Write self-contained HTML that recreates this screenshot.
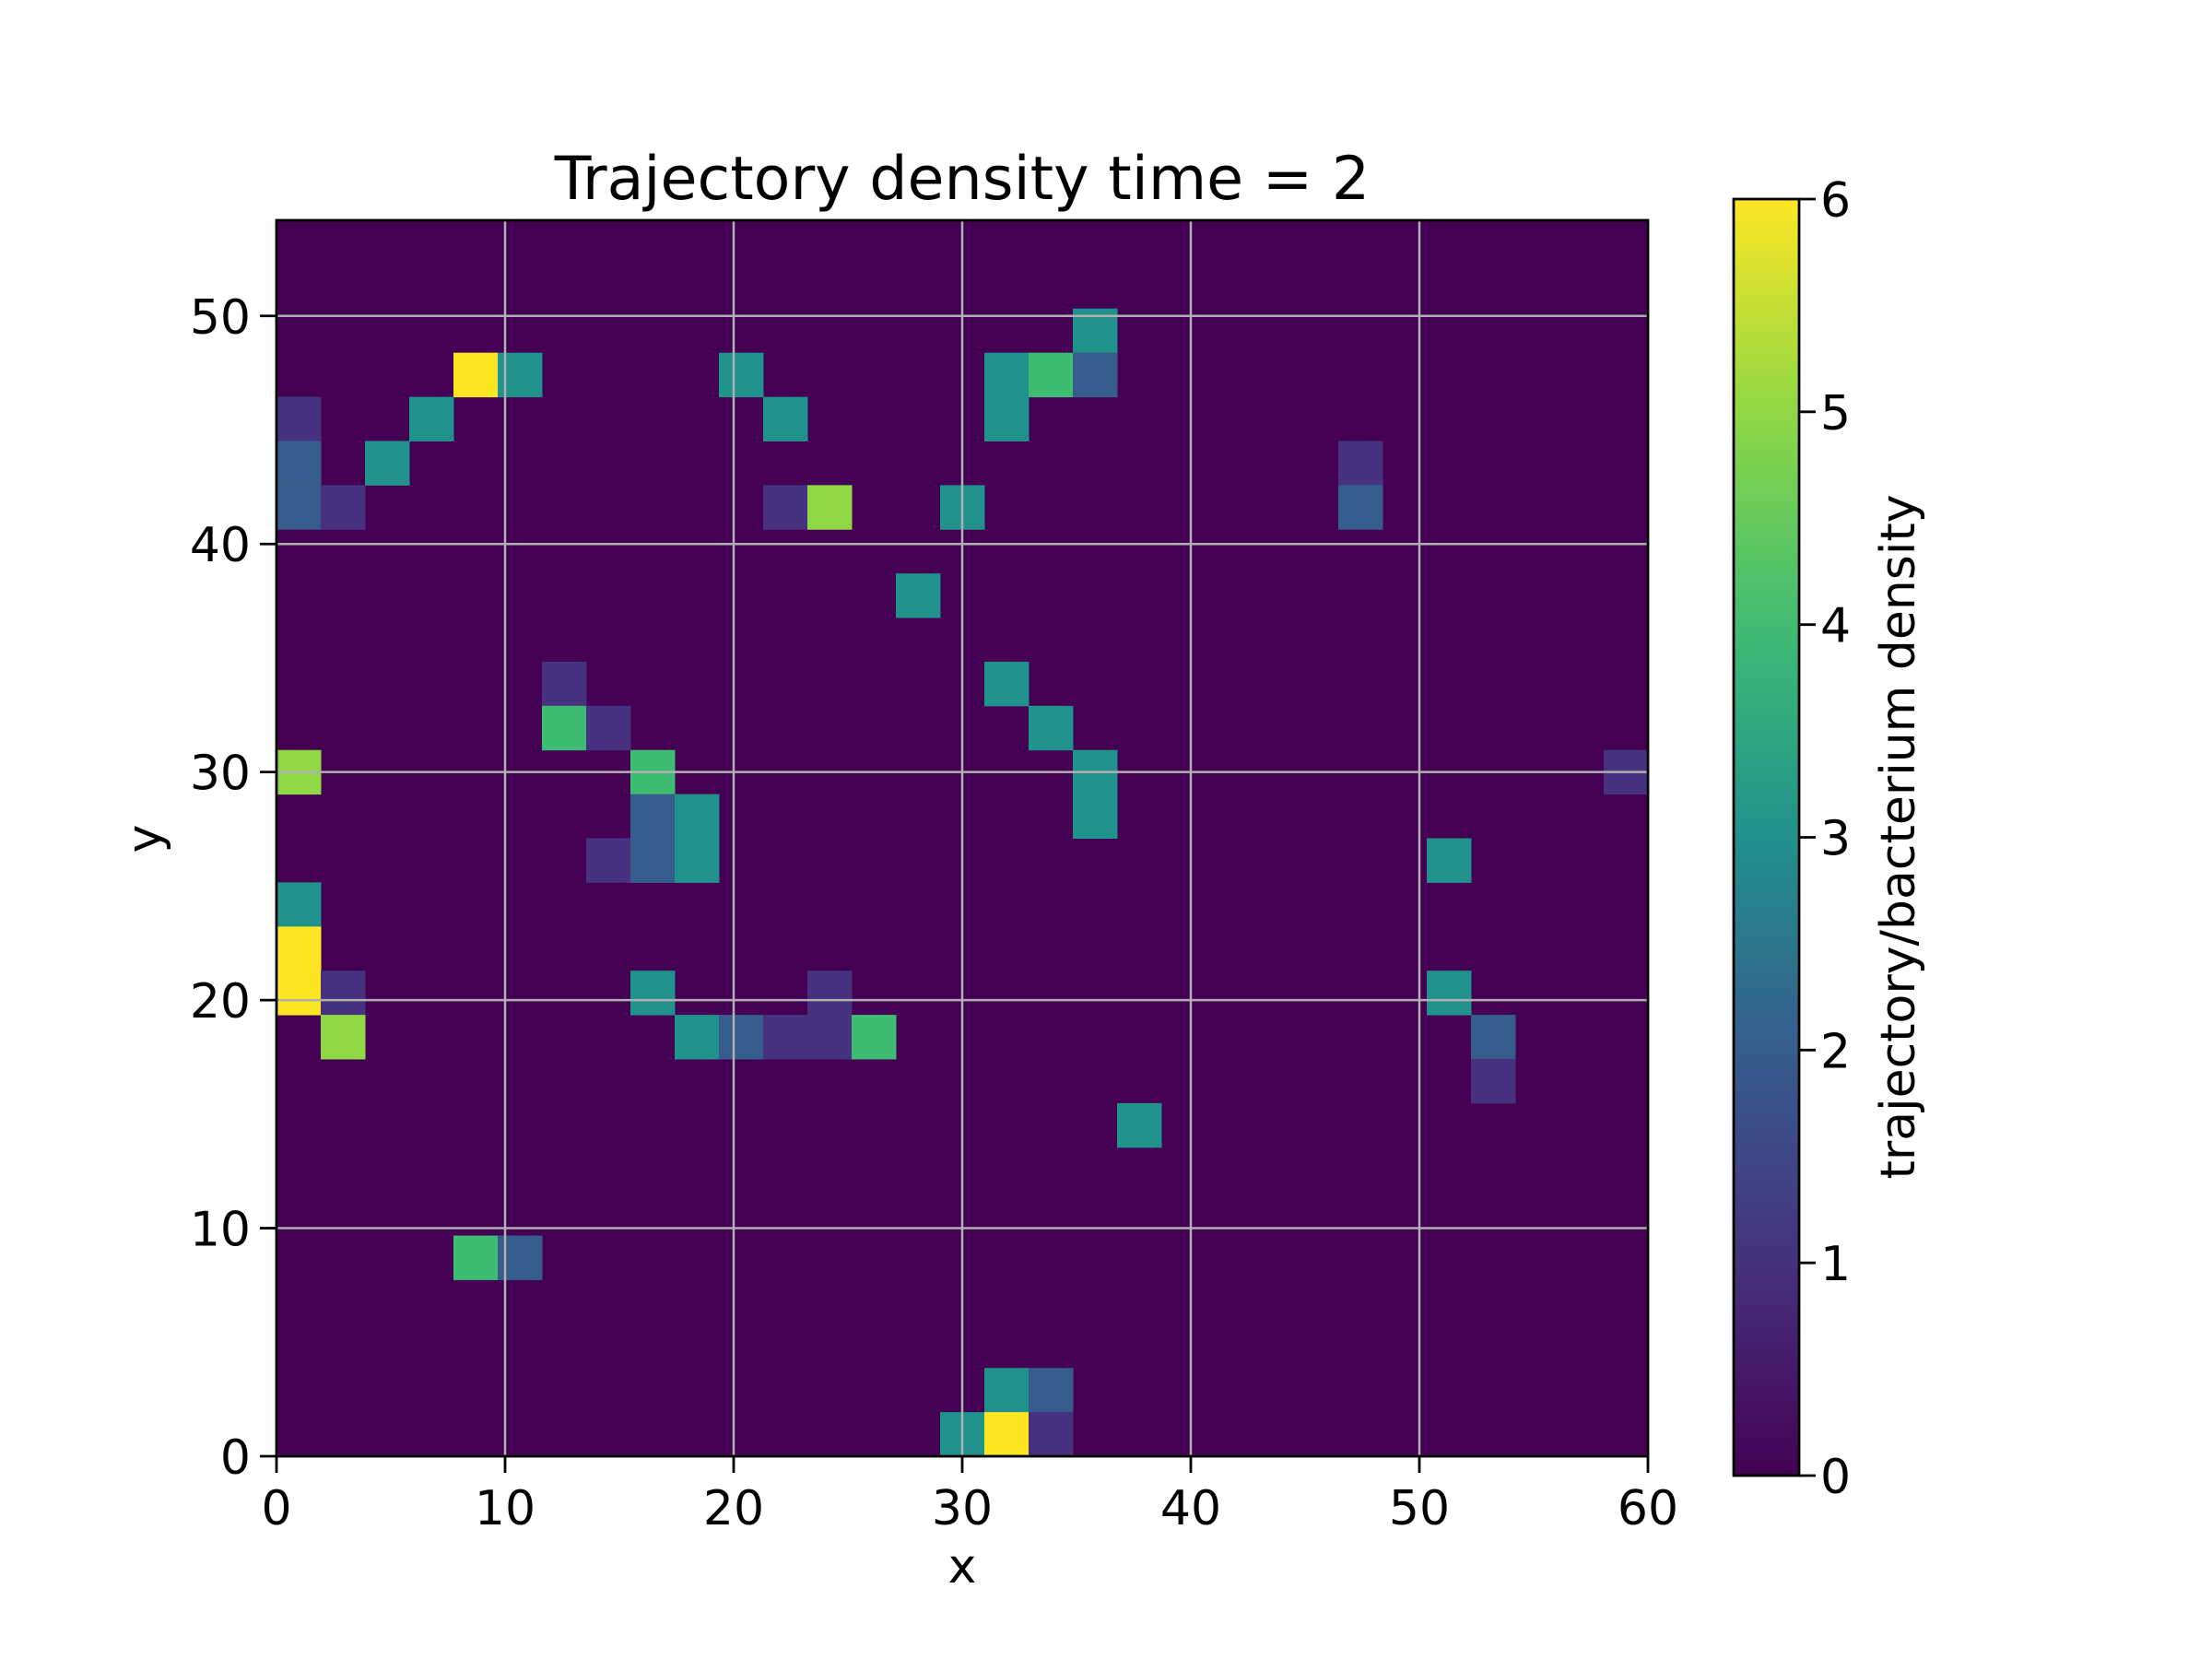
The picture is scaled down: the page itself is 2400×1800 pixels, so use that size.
<!DOCTYPE html>
<html><head><meta charset="utf-8"><style>
html,body{margin:0;padding:0;background:#fff;}
svg{display:block;font-family:"DejaVu Sans","Liberation Sans",sans-serif;}
</style></head>
<body>
<svg id="chart" width="2400" height="1800" viewBox="0 0 2400 1800" xmlns="http://www.w3.org/2000/svg">
<rect width="2400" height="1800" fill="#fff"/>
<text x="1044" y="216" font-size="65" text-anchor="middle">Trajectory density time = 2</text>
<g id="cells"></g>
<g id="grid"></g>
<g id="axes"></g>
<g id="cbar"></g>
<text x="1044" y="1717" font-size="52" text-anchor="middle">x</text>
<text transform="translate(174,910) rotate(-90)" font-size="52" text-anchor="middle">y</text>
<text transform="translate(2077,908) rotate(-90)" font-size="52" text-anchor="middle">trajectory/bacterium density</text>
</svg>
<script>
// data: nonzero cells [col,row,value] in a 31x28 grid, bins 60/31 units
const nCols = 31;
const nRows = 28;
const xMax = 60;
const cellCols = [18,4,5,10,16,17,18,0,3,11,16,0,2,24,0,1,11,12,15,24,14,6,16,6,7,17,0,8,18,30,8,9,18,7,8,9,26,0,0,0,1,8,12,26,1,9,10,11,12,13,27,27,19,4,5,16,17,15,16,17];
const cellRows = [25,24,24,24,24,24,24,23,23,23,23,22,22,22,21,21,21,21,21,21,19,17,17,16,16,16,15,15,15,15,14,14,14,13,13,13,13,12,11,10,10,10,10,10,9,9,9,9,9,9,9,8,7,4,4,1,1,0,0,0];
const cellVals = [3,6,3,3,3,4,2,1,3,3,3,2,3,1,2,1,1,5,3,2,3,1,3,4,1,3,5,4,3,1,2,3,3,1,2,3,3,3,6,6,1,3,1,3,5,3,2,1,1,4,2,1,3,4,2,3,2,3,6,1];
const xTicks = [0,10,20,30,40,50,60];
const yTicks = [0,10,20,30,40,50];
const cTicks = [0,1,2,3,4,5,6];

const L=300, R=1788, T=239, B=1580;
const binW = xMax/nCols;
const yMax = nRows*binW;
const sx = v => L + v/xMax*(R-L);
const sy = v => B - v/yMax*(B-T);
const CL=1881, CR=1952, CT=216, CB=1601;
const cy = v => CB - v/6*(CB-CT);
const NS="http://www.w3.org/2000/svg";
function viridis(t){
  const stops=[[0,68,1,84],[0.1667,70,50,126],[0.3333,54,92,141],[0.5,33,145,140],[0.6667,63,188,115],[0.8333,143,215,68],[1,253,231,37]];
  for(let i=1;i<stops.length;i++){ if(t<=stops[i][0]){const a=stops[i-1],b=stops[i];const f=(t-a[0])/(b[0]-a[0]);
    return `rgb(${Math.round(a[1]+f*(b[1]-a[1]))},${Math.round(a[2]+f*(b[2]-a[2]))},${Math.round(a[3]+f*(b[3]-a[3]))})`;}}
  return "rgb(253,231,37)";
}
function mk(tag,attrs,parent){const e=document.createElementNS(NS,tag);for(const k in attrs)e.setAttribute(k,attrs[k]);parent.appendChild(e);return e;}
const gC=document.getElementById('cells');
const bg=mk('rect',{x:L,y:T,width:R-L,height:B-T,fill:viridis(0)},gC);


for(let i=0;i<cellVals.length;i++){
  const x0=sx(cellCols[i]*binW), x1=sx((cellCols[i]+1)*binW);
  const y0=sy((cellRows[i]+1)*binW), y1=sy(cellRows[i]*binW);
  const r=mk('rect',{x:x0,y:y0,width:x1-x0+0.5,height:y1-y0+0.5,fill:viridis(cellVals[i]/6)},gC);
  
  
}
const gG=document.getElementById('grid');
xTicks.forEach(t=>{const l=mk('line',{x1:sx(t),x2:sx(t),y1:T,y2:B,stroke:'#b0b0b0','stroke-width':2.5},gG);
  
  });
yTicks.forEach(t=>{const l=mk('line',{x1:L,x2:R,y1:sy(t),y2:sy(t),stroke:'#b0b0b0','stroke-width':2.5},gG);
  
  });
const gA=document.getElementById('axes');
const fr=mk('rect',{x:L,y:T,width:R-L,height:B-T,fill:'none',stroke:'#000','stroke-width':2.8},gA);


xTicks.forEach(t=>{mk('line',{x1:sx(t),x2:sx(t),y1:B,y2:B+18,stroke:'#000','stroke-width':2.8},gA);
  const tx=mk('text',{x:sx(t),y:1654,'font-size':52,'text-anchor':'middle'},gA);tx.textContent=t;
  
  });
yTicks.forEach(t=>{mk('line',{x1:L-18,x2:L,y1:sy(t),y2:sy(t),stroke:'#000','stroke-width':2.8},gA);
  const tx=mk('text',{x:272,y:sy(t)+19,'font-size':52,'text-anchor':'end'},gA);tx.textContent=t;
  
  });
const gB=document.getElementById('cbar');
const defs=mk('defs',{},gB);
const lg=mk('linearGradient',{id:'vg',x1:0,y1:1,x2:0,y2:0},defs);
for(let i=0;i<=20;i++){mk('stop',{offset:i/20,'stop-color':viridis(i/20)},lg);}
const cb=mk('rect',{x:CL,y:CT,width:CR-CL,height:CB-CT,fill:'url(#vg)',stroke:'#000','stroke-width':2.8},gB);


cTicks.forEach(t=>{mk('line',{x1:CR,x2:CR+18,y1:cy(t),y2:cy(t),stroke:'#000','stroke-width':2.8},gB);
  const tx=mk('text',{x:1975,y:cy(t)+19,'font-size':52},gB);tx.textContent=t;
  
  });
</script>
</body></html>
